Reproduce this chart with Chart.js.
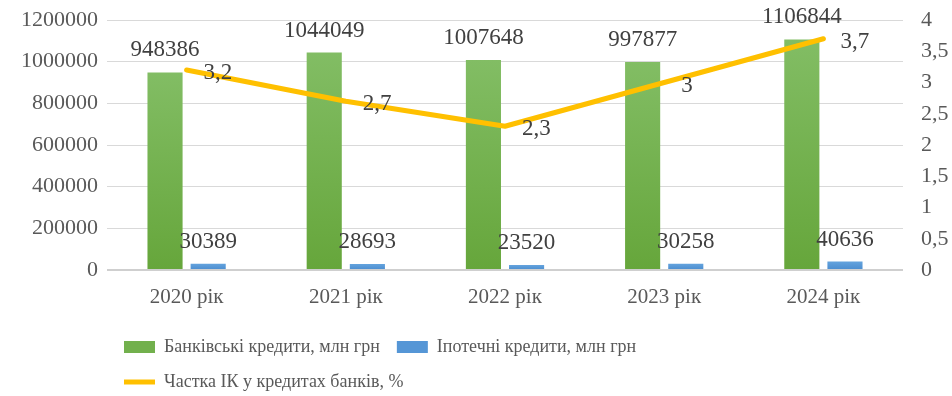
<!DOCTYPE html>
<html lang="uk">
<head>
<meta charset="utf-8">
<script src="https://cdn.jsdelivr.net/npm/chart.js@4.4.1/dist/chart.umd.min.js"></script>
<style>
  html, body { margin: 0; padding: 0; background: #ffffff; }
  #wrap { width: 952px; height: 396px; position: relative; }
</style>
</head>
<body>
<div id="wrap"><canvas id="chartKredyty"></canvas></div>
<script>
// дані з діаграми
const roky = ['2020 рік', '2021 рік', '2022 рік', '2023 рік', '2024 рік'];
const bankivski = [948386, 1044049, 1007648, 997877, 1106844];
const ipotechni = [30389, 28693, 23520, 30258, 40636];
const chastkaIK = [3.2, 2.7, 2.3, 3, 3.7];

const nazvaBank = 'Банківські кредити, млн грн';
const nazvaIpot = 'Іпотечні кредити, млн грн';
const nazvaChastka = 'Частка ІК у кредитах банків, %';

const shryft = "'Liberation Serif', 'Times New Roman', serif";

// градієнт для кожного стовпчика окремо (світліший зверху)
function barGradient(top, bottom) {
    return function (context) {
        const chart = context.chart;
        const area = chart.chartArea;
        if (!area || context.raw === undefined) return bottom;
        const yScale = chart.scales.y;
        const yTop = yScale.getPixelForValue(context.raw);
        const yBase = yScale.getPixelForValue(0);
        if (!isFinite(yTop) || yBase - yTop < 1) return bottom;
        const g = chart.ctx.createLinearGradient(0, yTop, 0, yBase);
        g.addColorStop(0, top);
        g.addColorStop(1, bottom);
        return g;
    };
}

// підписи значень
const pidpysy = {
    id: 'pidpysy',
    afterDatasetsDraw(chart) {
        const ctx = chart.ctx;
        ctx.save();
        ctx.font = '23px ' + shryft;
        ctx.fillStyle = '#404040';
        ctx.textBaseline = 'middle';

        [0, 1].forEach(function (di) {
            const meta = chart.getDatasetMeta(di);
            ctx.textAlign = 'center';
            meta.data.forEach(function (bar, i) {
                ctx.fillText(String(chart.data.datasets[di].data[i]), bar.x, bar.y - 22);
            });
        });

        const lineMeta = chart.getDatasetMeta(2);
        ctx.textAlign = 'left';
        lineMeta.data.forEach(function (pt, i) {
            const v = String(chastkaIK[i]).replace('.', ',');
            ctx.fillText(v, pt.x + 17, pt.y + 3);
        });
        ctx.restore();
    }
};

// вертикальні осі: відступ зверху під підпис верхньої позначки
function fixVertical(width) {
    return function (scale) {
        scale.width = width;
        scale.paddingTop = 20;
        scale.paddingBottom = 0;
    };
}

const ctxK = document.getElementById('chartKredyty');

new Chart(ctxK, {
    type: 'bar',
    data: {
        labels: roky,
        datasets: [
            {
                label: nazvaBank,
                data: bankivski,
                backgroundColor: barGradient('#82bd64', '#66a63b'),
                borderWidth: 0,
                yAxisID: 'y',
                order: 2,
                categoryPercentage: 0.542,
                barPercentage: 0.814
            },
            {
                label: nazvaIpot,
                data: ipotechni,
                backgroundColor: barGradient('#64a3dd', '#4a8ccf'),
                borderWidth: 0,
                yAxisID: 'y',
                order: 2,
                categoryPercentage: 0.542,
                barPercentage: 0.814
            },
            {
                type: 'line',
                label: nazvaChastka,
                data: chastkaIK,
                borderColor: '#ffc000',
                backgroundColor: '#ffc000',
                borderWidth: 5,
                borderCapStyle: 'round',
                borderJoinStyle: 'round',
                pointRadius: 0,
                tension: 0,
                yAxisID: 'y1',
                order: 1
            }
        ]
    },
    options: {
        responsive: true,
        maintainAspectRatio: false,
        animation: false,
        layout: {
            padding: { top: 0, bottom: -5 }
        },
        plugins: {
            tooltip: { enabled: false },
            legend: {
                position: 'bottom',
                align: 'start',
                fullSize: false,
                labels: {
                    color: '#595959',
                    font: { family: shryft, size: 18 },
                    usePointStyle: true,
                    pointStyleWidth: 31,
                    boxWidth: 31,
                    boxHeight: 12,
                    padding: 17,
                    sort: function (a, b) { return a.datasetIndex - b.datasetIndex; },
                    generateLabels: function (chart) {
                        const items = Chart.defaults.plugins.legend.labels.generateLabels(chart);
                        items.forEach(function (it) {
                            if (it.datasetIndex === 0) {
                                it.pointStyle = 'rect';
                                it.fillStyle = '#72b04d';
                                it.strokeStyle = '#72b04d';
                                it.lineWidth = 0;
                            } else if (it.datasetIndex === 1) {
                                it.pointStyle = 'rect';
                                it.fillStyle = '#5596d6';
                                it.strokeStyle = '#5596d6';
                                it.lineWidth = 0;
                            } else {
                                it.pointStyle = 'line';
                                it.strokeStyle = '#ffc000';
                                it.lineWidth = 5;
                            }
                        });
                        return items;
                    }
                }
            }
        },
        scales: {
            x: {
                grid: { display: false, drawTicks: false },
                border: { display: false },
                ticks: {
                    color: '#595959',
                    font: { family: shryft, size: 21 },
                    padding: 15
                },
                afterFit: function (scale) { scale.height = 51; }
            },
            y: {
                position: 'left',
                min: 0,
                max: 1200000,
                ticks: {
                    stepSize: 200000,
                    color: '#595959',
                    font: { family: shryft, size: 22 },
                    padding: 9,
                    callback: function (v) { return String(v); }
                },
                grid: {
                    color: function (c) { return c.tick && c.tick.value === 0 ? '#cfcfcf' : '#d9d9d9'; },
                    lineWidth: function (c) { return c.tick && c.tick.value === 0 ? 2 : 1; },
                    drawTicks: false
                },
                border: { display: false },
                afterFit: fixVertical(107)
            },
            y1: {
                position: 'right',
                min: 0,
                max: 4,
                ticks: {
                    stepSize: 0.5,
                    autoSkip: false,
                    color: '#595959',
                    font: { family: shryft, size: 22 },
                    padding: 18,
                    callback: function (v) { return String(v).replace('.', ','); }
                },
                grid: { display: false, drawTicks: false },
                border: { display: false },
                afterFit: fixVertical(49)
            }
        }
    },
    plugins: [pidpysy]
});
</script>
</body>
</html>
